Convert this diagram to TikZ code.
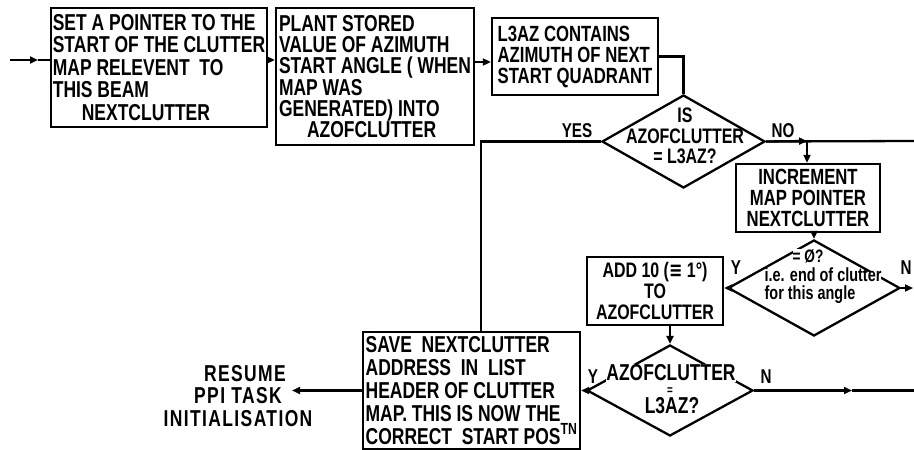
\documentclass[tikz,border=0pt]{standalone}
\usepackage{fontspec}
\setmainfont{Liberation Sans}[FakeStretch=0.76]
\newfontfamily\symfont{DejaVu Sans}[FakeStretch=0.76]
\usetikzlibrary{shapes.geometric,arrows.meta}
\begin{document}
\begin{tikzpicture}[x=1pt,y=-1pt,
  every node/.style={font=\fontsize{23}{22.5}\selectfont\bfseries},
  box/.style={draw, line width=2.4pt, rectangle, inner sep=2pt},
  dia/.style={draw, diamond, line width=2.3pt, inner sep=0pt},
  con/.style={line width=2.3pt},
  arr/.style={con, -{Triangle[length=8pt,width=7pt]}},
  lbl/.style={inner sep=0pt, font=\fontsize{20}{19}\selectfont\bfseries},
  dtxt/.style={inner sep=1pt, align=center}
]
\useasboundingbox (0,0) rectangle (914,450);

% boxes
\node[box, minimum width=214pt, minimum height=119pt, align=left] (b1) at (159,67.5)
  {SET A POINTER TO THE\\START OF THE CLUTTER\\MAP RELEVENT\ \ TO\\THIS BEAM\\\hspace*{29pt}NEXTCLUTTER};
\node[box, minimum width=198pt, minimum height=137pt, align=left,
  font=\fontsize{23}{21.3}\selectfont\bfseries] (b2) at (375,76.5)
  {PLANT STORED\\VALUE OF AZIMUTH\\START ANGLE ( WHEN\\MAP WAS\\GENERATED) INTO\\\hspace*{28pt}AZOFCLUTTER};
\node[box, minimum width=166pt, minimum height=77pt, align=left,
  font=\fontsize{22}{21}\selectfont\bfseries] (b3) at (575,56.5)
  {L3AZ CONTAINS\\AZIMUTH OF NEXT\\START QUADRANT};
\node[box, minimum width=144pt, minimum height=68pt, align=center,
  font=\fontsize{22}{21}\selectfont\bfseries] (inc) at (808,198)
  {INCREMENT\\MAP POINTER\\NEXTCLUTTER};
\node[box, minimum width=136pt, minimum height=68pt, align=center,
  font=\fontsize{21}{21}\selectfont\bfseries] (add) at (655,291)
  {ADD 10 ({\symfont ≡} 1°)\\TO\\AZOFCLUTTER};
\node[box, minimum width=217pt, minimum height=117pt, align=left,
  font=\fontsize{23}{22.8}\selectfont\bfseries] (save) at (471.5,390.5)
  {SAVE\ \ NEXTCLUTTER\\ADDRESS\ \ IN\ \ LIST\\HEADER OF CLUTTER\\MAP. THIS IS NOW THE\\CORRECT\ \ START POS\textsuperscript{TN}};

% diamonds
\node[dia, minimum width=163pt, minimum height=93pt] (d1) at (683.5,141.5) {};
\node[dia, minimum width=172pt, minimum height=96pt] (d2) at (814,288) {};
\node[dia, minimum width=166pt, minimum height=91pt] (d3) at (670,390.5) {};

% diamond texts
\node[dtxt, font=\fontsize{21}{20.5}\selectfont\bfseries] (d1t) at (685,136) {IS\\AZOFCLUTTER\\= L3AZ?};
\node[dtxt, fill=white, inner sep=0pt, font=\fontsize{18}{18}\selectfont\bfseries] (d2a) at (808,256) {= Ø?};
\node[dtxt, fill=white, inner sep=0pt, text height=10pt, text depth=3pt,
  font=\fontsize{19}{18}\selectfont\bfseries] (d2b) at (823,278) {i.e. end of clutter};
\node[dtxt, fill=white, inner sep=0pt, text height=10pt, text depth=3pt,
  font=\fontsize{19}{18}\selectfont\bfseries] (d2c) at (810,296) {for this angle};
\node[dtxt, fill=white, inner sep=0.5pt] (d3a) at (671,373) {AZOFCLUTTER};
\node[dtxt, font=\fontsize{13}{12}\selectfont\bfseries] (d3b) at (670,391) {=};
\node[dtxt] (d3c) at (672,406) {L3AZ?};

% resume
\node[align=center, inner sep=0pt, font=\fontsize{23}{22.5}\selectfont\bfseries\addfontfeature{LetterSpace=6}] (res) at (238,396)
  {\hspace*{14pt}RESUME\\PPI TASK\\INITIALISATION};

% labels
\node[lbl] (lyes) at (577,131) {YES};
\node[lbl] (lno) at (783,131) {NO};
\node[lbl] (ly2) at (736,268) {Y};
\node[lbl] (ln2) at (906,268) {N};
\node[lbl] (ly3) at (593,377) {Y};
\node[lbl] (ln3) at (766,377) {N};

% coordinates
\coordinate (in) at (10,60);
\coordinate (inm) at (38,60);
\coordinate (r2) at (0,62);
\coordinate (c1) at (481,0);
\coordinate (j1) at (807,141);
\coordinate (e1) at (914,141);
\coordinate (e2) at (913,288);
\coordinate (m3) at (852,390.5);
\coordinate (e3) at (914,390.5);
\coordinate (rt) at (292,390.5);

% connectors
\draw[arr] (in) -- (inm);
\draw[con] (inm) -- (b1.west |- in);
\draw[arr] (b1.east |- in) -- (b2.west |- in);
\draw[arr] (b2.east |- r2) -- (b3.west |- r2);
\draw[con] (b3.east) -| (d1.north);
\draw[con] (d1.west) -| (c1 |- save.north);
\draw[con] (d1.east) -- (e1);
\draw[arr] (d1.east) -- (j1);
\draw[arr] (j1) -- (j1 |- inc.north);
\draw[arr] (d2.north |- inc.south) -- (d2.north);
\draw[arr] (d2.west) -- (add.east |- d2.west);
\draw[arr] (d2.east) -- (e2);
\draw[arr] (d3.north |- add.south) -- (d3.north);
\draw[arr] (d3.west) -- (save.east |- d3.west);
\draw[arr] (d3.east) -- (m3);
\draw[con] (m3) -- (e3);
\draw[arr] (save.west |- d3.west) -- (rt);
\end{tikzpicture}
\end{document}
